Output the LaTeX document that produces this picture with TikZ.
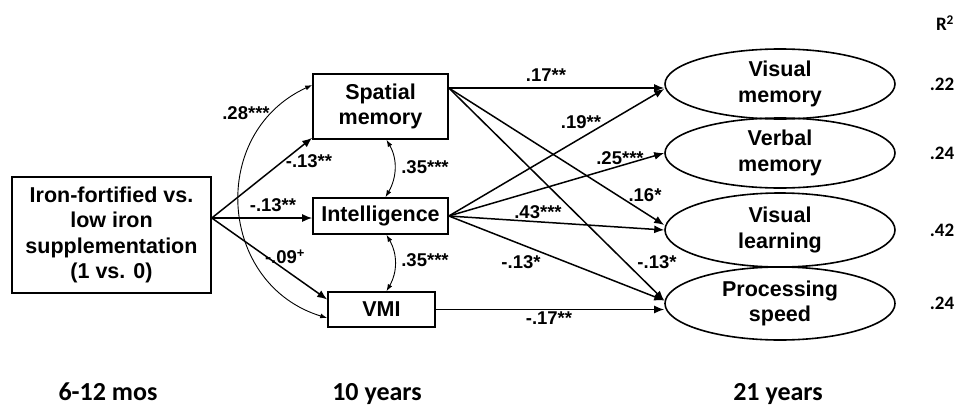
\documentclass[tikz,border=0pt]{standalone}
\usepackage{fontspec}
\setmainfont{Liberation Sans}
\newfontfamily\calibrifont{Carlito}
\usetikzlibrary{arrows.meta,shapes.geometric}

\begin{document}
\begin{tikzpicture}[x=1pt,y=-1pt,
  box/.style={draw, line width=1.6pt, inner sep=0pt, align=center,
    font=\bfseries\fontsize{21.5}{25.5}\selectfont},
  oval/.style={draw, ellipse, line width=1.6pt, inner sep=0pt, align=center,
    minimum width=230pt, font=\bfseries\fontsize{21.5}{25.5}\selectfont},
  path/.style={line width=1.5pt, -{Latex[length=10pt,width=8pt]}},
  cov/.style={line width=0.9pt, {Latex[length=7pt,width=5pt]}-{Latex[length=7pt,width=5pt]}},
  coef/.style={font=\bfseries\fontsize{18.5}{18.5}\selectfont, inner sep=0pt},
  age/.style={font=\calibrifont\bfseries\fontsize{26}{26}\selectfont, inner sep=0pt, anchor=base},
  rsq/.style={font=\calibrifont\bfseries\fontsize{19}{19}\selectfont, inner sep=0pt}
]
\useasboundingbox (0,0) rectangle (957,407);

% predictor and 10-year measures
\node[box, minimum width=199pt, minimum height=116pt] (iron) at (111.5,235)
  {Iron-fortified vs.\\low iron\\supplementation\\(1 vs. 0)};
\node[box, minimum width=135pt, minimum height=65pt] (spat) at (380.5,106.5) {Spatial\\memory};
\node[box, minimum width=135pt, minimum height=36pt] (intel) at (380.5,216) {Intelligence};
\node[box, minimum width=107pt, minimum height=35pt] (vmi) at (381.5,309.5) {VMI};

% 21-year outcomes
\node[oval, minimum height=70pt] (vism) at (780,84) {Visual\\memory};
\node[oval, minimum height=70pt] (verb) at (780,153) {Verbal\\memory};
\node[oval, minimum height=74pt] (visl) at (780,230) {Visual\\learning};
\node[oval, minimum height=73pt] (proc) at (780,303.5) {Processing\\speed};

% paths from supplementation
\coordinate (ironout) at ([yshift=17pt]iron.east);
\draw[path] (ironout) -- ([yshift=2pt]spat.south west);
\draw[path] (ironout) -- (ironout -| intel.west);
\draw[path] (ironout) -- ([yshift=10pt]vmi.west);

% covariances among 10-year measures
\draw[cov] ([yshift=21.5pt]spat.west) .. controls (207.7,133.2) and (218.1,284.6) .. ([yshift=-8.5pt]vmi.west);
\draw[cov] ([xshift=6pt]spat.south) to[out=-60,in=60] ([xshift=5pt]intel.north);
\draw[cov] ([xshift=6pt]intel.south) to[out=-60,in=60] ([xshift=5pt]vmi.north);

% paths to 21-year outcomes
\coordinate (spout) at ([yshift=18.5pt]spat.east);
\draw[path] (spout) -- (spout -| vism.west);
\draw[path] (spout) -- ([yshift=5pt]visl.west);
\draw[path] (spout) -- ([yshift=3pt]proc.west);
\draw[path] (intel.east) -- ([yshift=-5pt]vism.west);
\draw[path] (intel.east) -- (verb.west);
\draw[path] (intel.east) -- (visl.west);
\draw[path] (intel.east) -- ([yshift=3pt]proc.west);
\draw[path] (vmi.east) -- (vmi.east -| proc.west);

% coefficients
\node[coef] (c28) at (246,113) {.28***};
\node[coef] (c13a) at (309,161) {-.13**};
\node[coef] (c13b) at (273,205) {-.13**};
\node[coef] (c09) at (285,257) {-.09\textsuperscript{+}};
\node[coef] (c35a) at (425,167) {.35***};
\node[coef] (c35b) at (425,260) {.35***};
\node[coef] (c17a) at (546,75) {.17**};
\node[coef] (c19) at (581,122) {.19**};
\node[coef] (c25) at (620,158) {.25***};
\node[coef] (c16) at (645,195) {.16*};
\node[coef] (c43) at (538,212) {.43***};
\node[coef] (c13c) at (521,262) {-.13*};
\node[coef] (c13d) at (657,262) {-.13*};
\node[coef] (c17b) at (549,318) {-.17**};

% explained variance
\node[rsq] (r2) at (945,23) {R\textsuperscript{2}};
\node[rsq] (r2a) at (942,84) {.22};
\node[rsq] (r2b) at (942,153) {.24};
\node[rsq] (r2c) at (942,230) {.42};
\node[rsq] (r2d) at (942,303) {.24};

% time points
\node[age] (t1) at (108,400) {6-12 mos};
\node[age] (t2) at (377,400) {10 years};
\node[age] (t3) at (778,400) {21 years};
\end{tikzpicture}
\end{document}
